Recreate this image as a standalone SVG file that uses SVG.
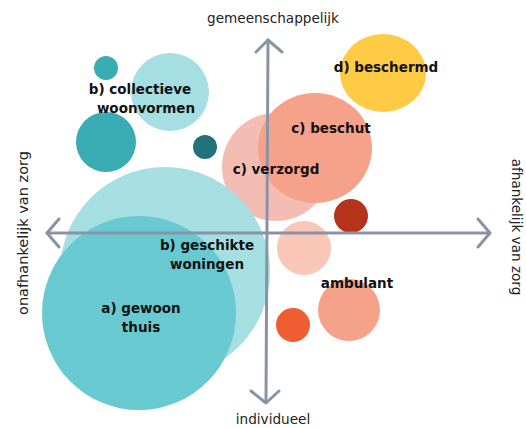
<svg xmlns="http://www.w3.org/2000/svg" width="526" height="428" viewBox="0 0 526 428">
<style>
.lbl{font-family:"DejaVu Sans",Verdana,sans-serif;font-weight:bold;font-size:13.5px;fill:#111;text-anchor:middle}
.ax{font-family:"DejaVu Sans",Verdana,sans-serif;font-size:13.6px;fill:#222;text-anchor:middle}
.axis{stroke:#8a93a6;stroke-width:3;fill:none;stroke-linecap:round;stroke-linejoin:round}
</style>
<rect width="526" height="428" fill="#ffffff"/>
<g id="bubbles">
<g id="n-small-teal"><circle cx="106" cy="68" r="12" fill="#3aacb3"/></g>
<g id="n-collectieve"><circle cx="170" cy="92" r="39" fill="#a5dfe2"/></g>
<g id="n-teal-mid"><circle cx="106" cy="142" r="30" fill="#3aacb3"/></g>
<g id="n-dark-teal"><circle cx="205" cy="147" r="12" fill="#247279"/></g>
<g id="n-beschermd"><ellipse cx="383" cy="73" rx="43" ry="39" fill="#ffcb44"/></g>
<g id="n-verzorgd"><circle cx="276" cy="167" r="54" fill="#f3bdb3"/></g>
<g id="n-beschut"><ellipse cx="315" cy="148" rx="57" ry="55" fill="#f6a189"/></g>
<g id="n-dark-red"><circle cx="351" cy="216" r="17" fill="#b3341a"/></g>
<g id="n-geschikte"><circle cx="165" cy="272" r="105" fill="#a5dfe2"/></g>
<g id="n-gewoon"><circle cx="139" cy="313" r="97" fill="#68c9d0"/></g>
<g id="n-pale"><circle cx="304" cy="248" r="27" fill="#fac6b7"/></g>
<g id="n-ambulant"><circle cx="349" cy="310" r="31" fill="#f6a189"/></g>
<g id="n-orange"><circle cx="293" cy="325" r="17" fill="#ef5e33"/></g>
</g>
<g id="connectors">
<path class="axis" d="M266 402 L268 40"/>
<path class="axis" d="M256 52 L268 40 L282 52"/>
<path class="axis" d="M251 391 L266 403 L279 391"/>
<path class="axis" d="M47 233 L490 233"/>
<path class="axis" d="M59 219 L47 233 L59 247"/>
<path class="axis" d="M478 219 L490 233 L478 247"/>
</g>
<g id="labels">
<text class="ax" x="273" y="23">gemeenschappelijk</text>
<text class="ax" x="273" y="424">individueel</text>
<text class="ax" style="font-size:14.5px" transform="translate(28,233) rotate(-90)">onafhankelijk van zorg</text>
<text class="ax" transform="translate(512,227) rotate(90)">afhankelijk van zorg</text>
<text class="lbl" x="140" y="94">b) collectieve</text>
<text class="lbl" x="146" y="113">woonvormen</text>
<text class="lbl" x="386" y="72">d) beschermd</text>
<text class="lbl" x="331" y="133">c) beschut</text>
<text class="lbl" x="276" y="174">c) verzorgd</text>
<text class="lbl" x="207" y="250">b) geschikte</text>
<text class="lbl" x="207" y="269">woningen</text>
<text class="lbl" x="357" y="288">ambulant</text>
<text class="lbl" x="141" y="313">a) gewoon</text>
<text class="lbl" x="141" y="332">thuis</text>
</g>
</svg>
